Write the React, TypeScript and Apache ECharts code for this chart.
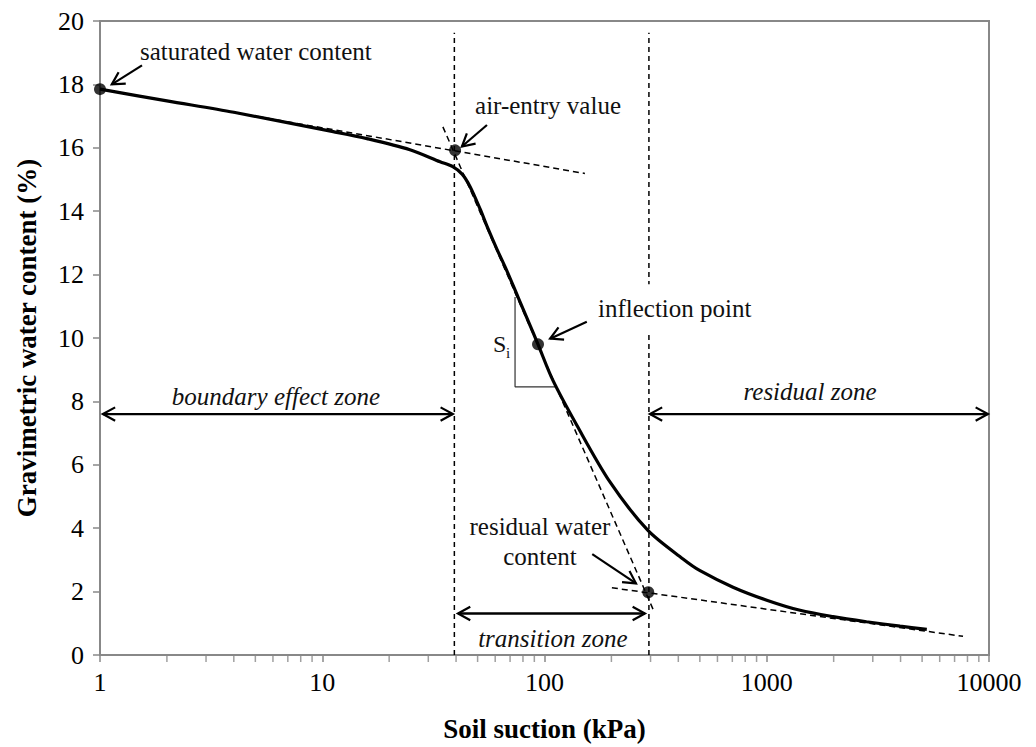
import React, { useEffect, useRef } from "react";
import * as echarts from "echarts";

// Soil-water characteristic curve
const suction = [1, 2, 4, 11.2, 15.9, 24.8, 33.9, 38.8, 42.6, 46.2, 51.3, 55.7, 61.2, 67.8, 76, 84.3, 93.5, 109, 140, 197, 292, 420, 501, 705, 1000, 1413, 1986, 2810, 3978, 5250];
const waterContent = [17.85, 17.48, 17.12, 16.51, 16.29, 15.94, 15.56, 15.4, 15.17, 14.78, 14.07, 13.45, 12.79, 12.11, 11.29, 10.55, 9.8, 8.67, 7.24, 5.46, 3.93, 3.03, 2.66, 2.14, 1.73, 1.41, 1.21, 1.05, 0.91, 0.81];

// Key points: saturated, air-entry, inflection, residual
const keyX = [1, 39.6, 93.5, 293];
const keyY = [17.85, 15.92, 9.8, 1.98];

// Tangent / construction lines [x1, y1, x2, y2]
const tangentSat = [1, 17.85, 152, 15.19];
const tangentSteep = [34.9, 16.66, 312, 1.35];
const tangentResidual = [201, 2.12, 7640, 0.59];
const verticalAE = [39.3, 0, 39.3, 19.63];
const verticalRes = [295, 0, 295, 19.63];
const slopeTriangle = [[73.7, 11.29], [73.7, 8.46], [113.8, 8.46]];

// Arrows [x1, y1, x2, y2, doubleHeaded]
const zoneArrows = [
  [1.03, 7.6, 38.7, 7.6, 1],
  [40.8, 1.31, 283, 1.31, 1],
  [298, 7.6, 9890, 7.6, 1],
];
const pointerArrows = [
  [1.545, 18.6, 1.13, 18.0, 0],
  [55.1, 16.72, 42.5, 16.04, 0],
  [155, 10.51, 106, 9.98, 0],
  [164, 3.18, 258, 2.26, 0],
];

// Annotation texts and anchor positions
const annoTexts = [
  "saturated water content",
  "air-entry value",
  "inflection point",
  "residual water",
  "content",
  "boundary effect zone",
  "residual zone",
  "transition zone",
  "S",
  "i",
];
const annoX = [1.513, 48.7, 170.5, 95.4, 95.4, 6.19, 1566, 109, 58.7, 67.1];
const annoY = [19.03, 17.32, 10.92, 4.06, 3.12, 8.17, 8.3, 0.53, 9.8, 9.52];

// Axis ticks
const yTicks = [0, 2, 4, 6, 8, 10, 12, 14, 16, 18, 20];
const decades = [1, 10, 100, 1000];
const minorMultipliers = [2, 3, 4, 5, 6, 7, 8, 9];

const SERIF = "Liberation Serif, Times New Roman, serif";

const annoStyle = [
  { align: "left", size: 25, italic: false, bg: false },
  { align: "left", size: 25, italic: false, bg: false },
  { align: "left", size: 25, italic: false, bg: true },
  { align: "center", size: 25, italic: false, bg: false },
  { align: "center", size: 25, italic: false, bg: false },
  { align: "center", size: 25, italic: true, bg: false },
  { align: "center", size: 25, italic: true, bg: false },
  { align: "center", size: 25, italic: true, bg: false },
  { align: "left", size: 24, italic: false, bg: false },
  { align: "left", size: 15, italic: false, bg: false },
];

function headLines(tip: number[], from: number[], L = 14, ang = 0.5) {
  const dx = from[0] - tip[0];
  const dy = from[1] - tip[1];
  const len = Math.hypot(dx, dy) || 1;
  const ux = dx / len;
  const uy = dy / len;
  const rot = (a: number) => [
    tip[0] + L * (ux * Math.cos(a) - uy * Math.sin(a)),
    tip[1] + L * (ux * Math.sin(a) + uy * Math.cos(a)),
  ];
  return {
    type: "polyline",
    shape: { points: [rot(ang), tip, rot(-ang)] },
    style: { stroke: "#000", lineWidth: 2.2, fill: null },
  };
}

function arrowRender(lw: number) {
  return (params: any, api: any) => {
    const p1 = api.coord([api.value(0), api.value(1)]);
    const p2 = api.coord([api.value(2), api.value(3)]);
    const dbl = api.value(4) === 1;
    const children: any[] = [
      {
        type: "line",
        shape: { x1: p1[0], y1: p1[1], x2: p2[0], y2: p2[1] },
        style: { stroke: "#000", lineWidth: lw },
      },
      headLines(p2, p1),
    ];
    if (dbl) children.push(headLines(p1, p2));
    return { type: "group", children };
  };
}

function seg(a: number[]) {
  return [
    [a[0], a[1]],
    [a[2], a[3]],
  ];
}

export default function App() {
  const ref = useRef<HTMLDivElement>(null);

  useEffect(() => {
    if (!ref.current) return;
    const chart = echarts.init(ref.current, undefined, { renderer: "svg" });

    const dashed = (name: string, arr: number[], dash: number[]) => ({
      name,
      type: "line",
      data: seg(arr),
      symbol: "none",
      silent: true,
      lineStyle: { color: "#000", width: 1.5, type: dash },
      z: 2,
    });

    const minorData: number[][] = [];
    decades.forEach((d) => minorMultipliers.forEach((m) => minorData.push([d * m, 0])));

    chart.setOption({
      animation: false,
      backgroundColor: "#fff",
      textStyle: { fontFamily: SERIF },
      grid: {
        left: 100,
        right: 47,
        top: 21,
        bottom: 85,
        show: true,
        borderColor: "#888",
        borderWidth: 2,
      },
      xAxis: {
        type: "log",
        logBase: 10,
        min: 1,
        max: 10000,
        name: "Soil suction (kPa)",
        nameLocation: "middle",
        nameGap: 60,
        nameTextStyle: { fontFamily: SERIF, fontSize: 27, fontWeight: "bold", color: "#000" },
        axisLine: { lineStyle: { color: "#888", width: 2 } },
        axisTick: { show: true, inside: false, length: 7, lineStyle: { color: "#888", width: 1.5 } },
        axisLabel: {
          fontFamily: SERIF,
          fontSize: 26,
          color: "#000",
          margin: 14,
          formatter: (v: number) => String(Math.round(v)),
        },
        splitLine: { show: false },
      },
      yAxis: {
        type: "value",
        min: yTicks[0],
        max: yTicks[yTicks.length - 1],
        interval: 2,
        name: "Gravimetric water content (%)",
        nameLocation: "middle",
        nameGap: 60,
        nameTextStyle: { fontFamily: SERIF, fontSize: 27, fontWeight: "bold", color: "#000" },
        axisLine: { show: true, lineStyle: { color: "#888", width: 2 } },
        axisTick: { show: true, inside: false, length: 7, lineStyle: { color: "#888", width: 1.5 } },
        axisLabel: { fontFamily: SERIF, fontSize: 26, color: "#000", margin: 16 },
        splitLine: { show: false },
      },
      series: [
        {
          name: "minorTicks",
          type: "scatter",
          silent: true,
          clip: false,
          data: minorData,
          symbol: "rect",
          symbolSize: [1.5, 6],
          symbolOffset: [0, 4],
          itemStyle: { color: "#888" },
          z: 1,
        },
        dashed("vAE", verticalAE, [5, 4]),
        dashed("vRes", verticalRes, [5, 4]),
        dashed("tSat", tangentSat, [6, 4]),
        dashed("tSteep", tangentSteep, [6, 4]),
        dashed("tRes", tangentResidual, [6, 4]),
        {
          name: "slopeTriangle",
          type: "line",
          data: slopeTriangle,
          symbol: "none",
          silent: true,
          lineStyle: { color: "#333", width: 1.2 },
          z: 2,
        },
        {
          name: "SWCC",
          type: "line",
          data: suction.map((x, i) => [x, waterContent[i]]),
          smooth: 0.3,
          symbol: "none",
          lineStyle: { color: "#000", width: 3.2 },
          z: 3,
        },
        {
          name: "keyPoints",
          type: "scatter",
          data: keyX.map((x, i) => [x, keyY[i]]),
          symbolSize: 12,
          itemStyle: { color: "#000" },
          z: 4,
        },
        {
          name: "zoneArrows",
          type: "custom",
          silent: true,
          clip: false,
          data: zoneArrows,
          renderItem: arrowRender(2.4),
          z: 5,
        },
        {
          name: "pointerArrows",
          type: "custom",
          silent: true,
          clip: false,
          data: pointerArrows,
          renderItem: arrowRender(2.2),
          z: 5,
        },
        {
          name: "labels",
          type: "custom",
          silent: true,
          clip: false,
          data: annoX.map((x, i) => [x, annoY[i]]),
          renderItem: (params: any, api: any) => {
            const i = params.dataIndex;
            const st = annoStyle[i];
            const p = api.coord([api.value(0), api.value(1)]);
            const style: any = {
              text: annoTexts[i],
              fill: "#111",
              fontFamily: SERIF,
              fontSize: st.size,
              fontStyle: st.italic ? "italic" : "normal",
              align: st.align,
              verticalAlign: "middle",
            };
            if (st.bg) {
              style.backgroundColor = "#fff";
              style.padding = [12, 2, 12, 2];
            }
            return { type: "text", x: p[0], y: p[1], style, z2: 10 };
          },
          z: 6,
        },
      ],
    });

    return () => chart.dispose();
  }, []);

  return (
    <div
      ref={ref}
      style={{ position: "fixed", left: 0, top: 0, width: 1036, height: 747, background: "#fff" }}
    />
  );
}
